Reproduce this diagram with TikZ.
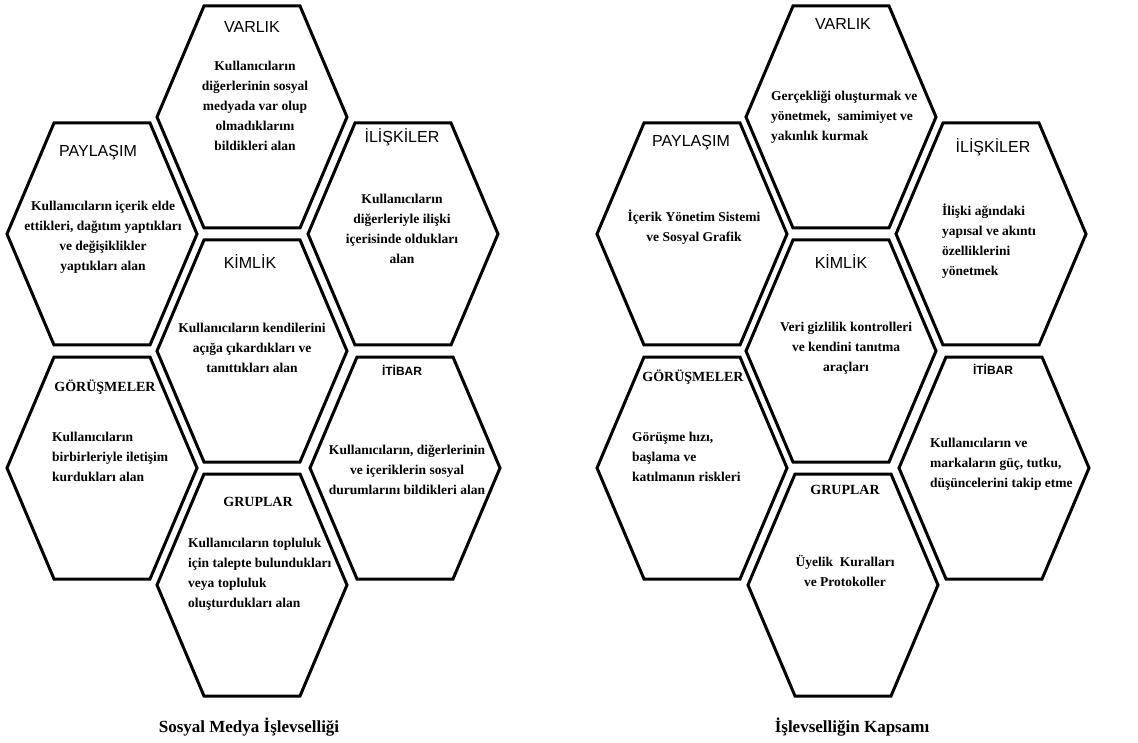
\documentclass[tikz,border=0pt]{standalone}
\usepackage{fontspec}
\setmainfont{Liberation Serif}
\newfontfamily\arialf{Liberation Sans}
\tikzset{
  hexa/.style={draw=black, line width=3pt, line join=miter},
  sanslbl/.style={font=\arialf\fontsize{16}{19}\selectfont, inner sep=0},
  sanslblb/.style={font=\arialf\bfseries\fontsize{12}{14}\selectfont, inner sep=0},
  seriflbl/.style={font=\bfseries\fontsize{14}{17}\selectfont, inner sep=0},
  body/.style={font=\bfseries\fontsize{13.5}{20}\selectfont, align=center, inner sep=0},
  bodyl/.style={body, align=left, anchor=west},
  ttl/.style={font=\bfseries\fontsize{17}{20}\selectfont, inner sep=0}
}
\newcommand\hexat[3]{%
  \draw[hexa, shift={(#1,#2)}] (-95,0) -- (-48,-111) -- (48,-111) -- (95,0) -- (48,111) -- (-48,111) -- cycle;
  \coordinate (#3) at (#1,#2);}
\begin{document}
\begin{tikzpicture}[x=1pt,y=-1pt]
\useasboundingbox[fill=white] (0,0) rectangle (1138,743);

% ---------- left diagram ----------
\hexat{252}{117}{LV}
\hexat{252}{351}{LK}
\hexat{252}{585}{LG}
\hexat{102}{234}{LP}
\hexat{102}{468}{LGo}
\hexat{403}{234}{LI}
\hexat{405}{468}{LT}

\node[sanslbl] (lvt) at (252,27) {VARLIK};
\node[body] (lvb) at (255,106) {Kullanıcıların\\diğerlerinin sosyal\\medyada var olup\\olmadıklarını\\bildikleri alan};

\node[sanslbl] (lpt) at (98,153) {PAYLAŞIM};
\node[body] (lpb) at (103,237) {Kullanıcıların içerik elde\\ettikleri, dağıtım yaptıkları\\ve değişiklikler\\yaptıkları alan};

\node[sanslbl] (lit) at (402,137) {İLİŞKİLER};
\node[body] (lib) at (402,229) {Kullanıcıların\\diğerleriyle ilişki\\içerisinde oldukları\\alan};

\node[sanslbl] (lkt) at (250,262) {KİMLİK};
\node[body] (lkb) at (252,348) {Kullanıcıların kendilerini\\açığa çıkardıkları ve\\tanıttıkları alan};

\node[seriflbl] (lgot) at (105,387) {GÖRÜŞMELER};
\node[bodyl] (lgob) at (52,457) {Kullanıcıların\\birbirleriyle iletişim\\kurdukları alan};

\node[sanslblb] (ltt) at (402,370) {İTİBAR};
\node[body] (ltb) at (407,470) {Kullanıcıların, diğerlerinin\\ve içeriklerin sosyal\\durumlarını bildikleri alan};

\node[seriflbl] (lgt) at (258,502) {GRUPLAR};
\node[bodyl] (lgb) at (188,574) {Kullanıcıların topluluk\\için talepte bulundukları\\veya topluluk\\oluşturdukları alan};

\node[ttl] (ltitle) at (249,727) {Sosyal Medya İşlevselliği};

% ---------- right diagram ----------
\hexat{841}{117}{RV}
\hexat{841}{351}{RK}
\hexat{843}{585}{RG}
\hexat{692}{234}{RP}
\hexat{692}{468}{RGo}
\hexat{991}{234}{RI}
\hexat{994}{468}{RT}

\node[sanslbl] (rvt) at (843,24) {VARLIK};
\node[bodyl] (rvb) at (771,117) {Gerçekliği oluşturmak ve\\yönetmek, \ samimiyet ve\\yakınlık kurmak};

\node[sanslbl] (rpt) at (691,143) {PAYLAŞIM};
\node[body] (rpb) at (694,227) {İçerik Yönetim Sistemi\\ve Sosyal Grafik};

\node[sanslbl] (rit) at (993,147) {İLİŞKİLER};
\node[bodyl] (rib) at (942,241) {İlişki ağındaki\\yapısal ve akıntı\\özelliklerini\\yönetmek};

\node[sanslbl] (rkt) at (841,262) {KİMLİK};
\node[body] (rkb) at (846,348) {Veri gizlilik kontrolleri\\ve kendini tanıtma\\araçları};

\node[seriflbl] (rgot) at (693,377) {GÖRÜŞMELER};
\node[bodyl] (rgob) at (632,457) {Görüşme hızı,\\başlama ve\\katılmanın riskleri};

\node[sanslblb] (rtt) at (993,369) {İTİBAR};
\node[bodyl] (rtb) at (930,464) {Kullanıcıların ve\\markaların güç, tutku,\\düşüncelerini takip etme};

\node[seriflbl] (rgt) at (845,490) {GRUPLAR};
\node[body] (rgb) at (845,571) {Üyelik \ Kuralları\\ve Protokoller};

\node[ttl] (rtitle) at (852,727) {İşlevselliğin Kapsamı};
\end{tikzpicture}
\end{document}
